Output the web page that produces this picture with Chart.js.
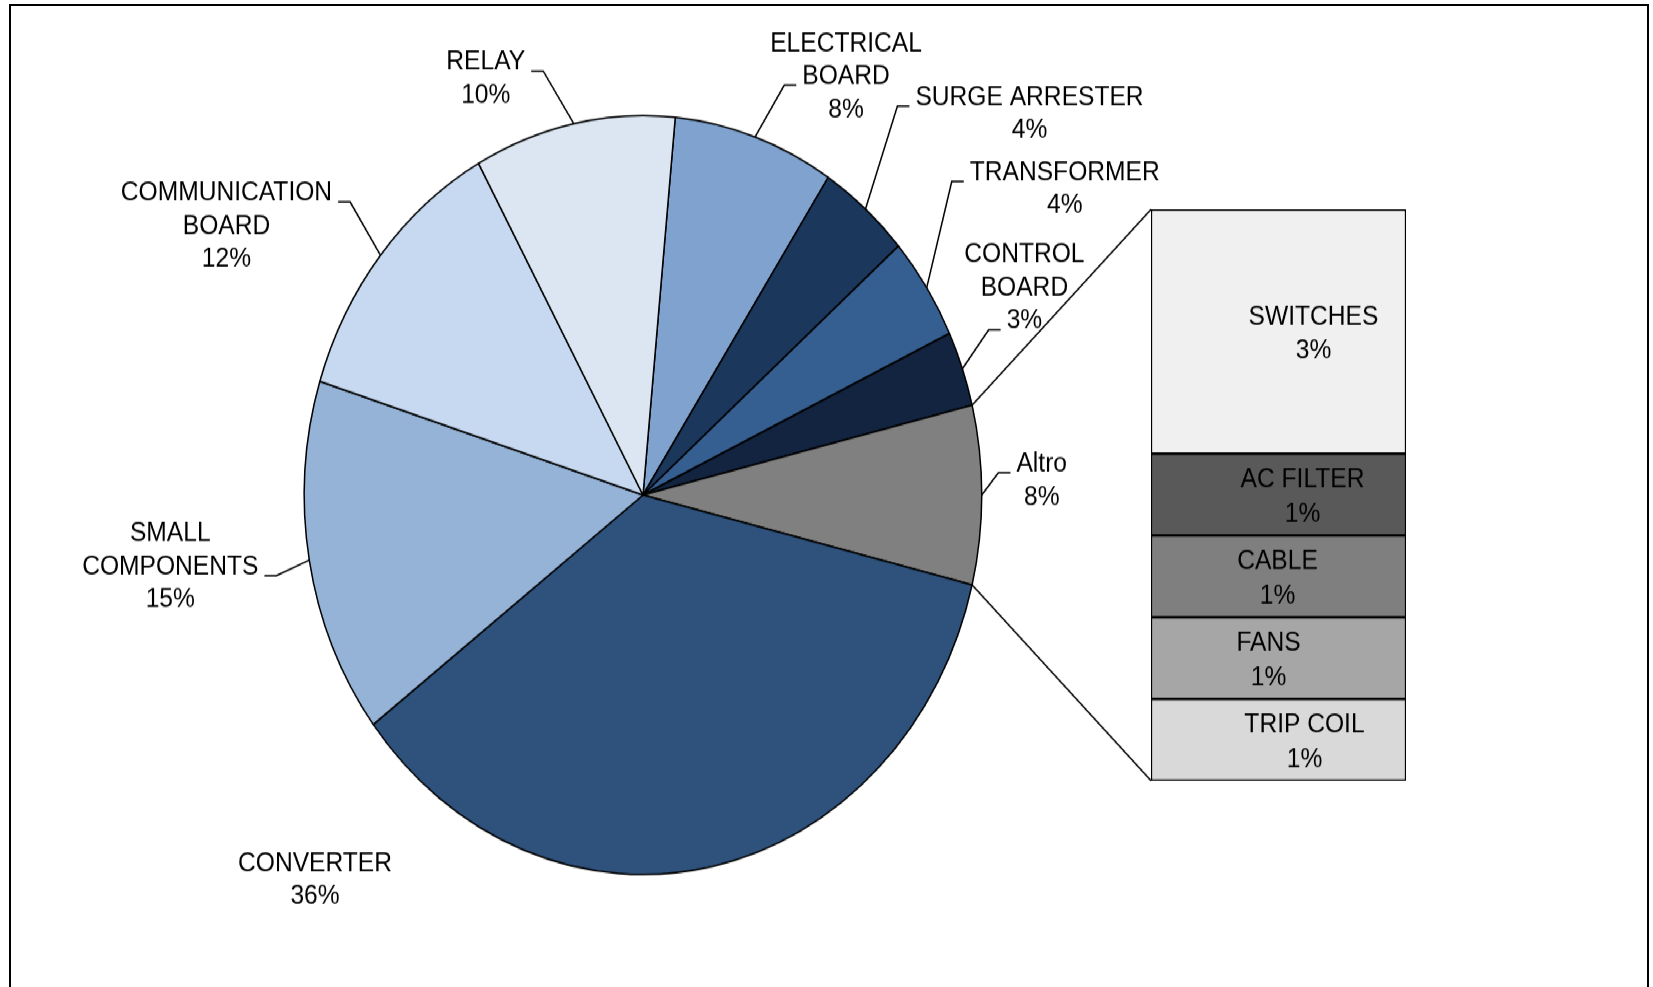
<!DOCTYPE html>
<html>
<head>
<meta charset="utf-8">
<title>Guasti per componente</title>
<script src="https://cdn.jsdelivr.net/npm/chart.js@4.4.1/dist/chart.umd.min.js"></script>
<style>
  html, body { margin: 0; padding: 0; background: #fff; overflow: hidden; }
  #stage { position: absolute; left: 0; top: 0; width: 1653px; height: 881px; transform: scaleY(1.12); transform-origin: 0 0; }
  #pieBox { position: absolute; left: 0; top: 0; width: 1653px; height: 881px; }
  #barBox { position: absolute; left: 1141px; top: 177px; width: 276px; height: 530px; }
  #frame { position: absolute; left: 9px; top: 4px; width: 1640px; height: 1100px; border: 2px solid #000; box-sizing: border-box; pointer-events: none; }
</style>
</head>
<body>
<div id="stage">
  <div id="pieBox"><canvas id="pieChart"></canvas></div>
  <div id="barBox"><canvas id="barChart"></canvas></div>
</div>
<div id="frame"></div>
<script>
(function () {
  'use strict';

  // pie slices, clockwise from the top; 'Altro' is the sum of the bar items
  var pieCategories = [['ELECTRICAL', 'BOARD'], ['SURGE ARRESTER'], ['TRANSFORMER'], ['CONTROL', 'BOARD'],
    ['Altro'], ['CONVERTER'], ['SMALL', 'COMPONENTS'], ['COMMUNICATION', 'BOARD'], ['RELAY']];
  var pieValues = [7.7, 4.4, 4.4, 3.2, null, 35.9, 15.2, 12.1, 9.6];
  var OTHER = 4;

  // bar of pie, top to bottom
  var barCategories = ['SWITCHES', 'AC FILTER', 'CABLE', 'FANS', 'TRIP COIL'];
  var barValues = [3.26, 1.09, 1.09, 1.09, 1.09];

  var pieColors = ['#7FA2CE', '#1B375C', '#365F91', '#12243F', '#808080', '#2F527C', '#95B3D7', '#C6D9F0', '#DCE6F2'];
  var barColors = ['#F0F0F0', '#595959', '#7F7F7F', '#A6A6A6', '#D9D9D9'];

  // label placement relative to the slice edge, and which line the leader points at
  var labelOffset = [[91, -56], [164, -87], [138, -90], [62, -74], [60, -15], [-397, 10], [-139, 4], [-154, -28], [-88, -42]];
  var leaderSpec = [[1, -1], [0, -1], [0, -1], [2, -1], [0, -1], null, [1, 1], [0, 1], [0, 1]];
  var barLabelShift = [35, 24, -1, -10, 26];

  var FONT = '24.6px "Liberation Sans", Arial, sans-serif';
  var CAP = 17.6;
  var LINE = 29.5;
  var BAR_LINE = 30.5;

  function sum(a) { return a.reduce(function (s, v) { return s + v; }, 0); }

  var barTotal = sum(barValues);
  pieValues[OTHER] = barTotal;
  var total = sum(pieValues);
  var before = sum(pieValues.slice(0, OTHER)) + pieValues[OTHER] / 2;
  var rotation = 90 - before / total * 360;

  function pct(v) { return Math.round(v / total * 100) + '%'; }

  function drawBlock(ctx, lines, cx, cy, step) {
    lines.forEach(function (t, k) {
      var mid = cy + (k - (lines.length - 1) / 2) * step;
      ctx.fillText(t, cx, mid + CAP / 2);
    });
  }

  // stacked bar: first dataset sits at the bottom
  var order = barCategories.map(function (c, i) { return i; }).reverse();
  var barBox = document.getElementById('barBox');

  var barChart = new Chart(document.getElementById('barChart'), {
    type: 'bar',
    data: {
      labels: [''],
      datasets: order.map(function (i) {
        return {
          label: barCategories[i],
          data: [barValues[i]],
          backgroundColor: barColors[i],
          borderColor: '#000',
          borderWidth: 1.5,
          borderSkipped: false,
          barPercentage: 1,
          categoryPercentage: 1
        };
      })
    },
    options: {
      responsive: true,
      maintainAspectRatio: false,
      animation: false,
      events: [],
      layout: { padding: { left: 10, right: 11, top: 10, bottom: 10 } },
      plugins: { legend: { display: false }, tooltip: { enabled: false } },
      scales: {
        x: { display: false, stacked: true },
        y: { display: false, stacked: true, min: 0, max: barTotal }
      }
    },
    plugins: [{
      id: 'barLabels',
      afterDatasetsDraw: function (chart) {
        var ctx = chart.ctx;
        ctx.save();
        ctx.font = FONT;
        ctx.fillStyle = '#000';
        ctx.textAlign = 'center';
        chart.data.datasets.forEach(function (ds, d) {
          var i = order[d];
          var el = chart.getDatasetMeta(d).data[0];
          drawBlock(ctx, [barCategories[i], pct(barValues[i])], el.x + barLabelShift[i], (el.y + el.base) / 2, BAR_LINE);
        });
        ctx.restore();
      }
    }]
  });

  new Chart(document.getElementById('pieChart'), {
    type: 'pie',
    data: {
      labels: pieCategories,
      datasets: [{
        data: pieValues,
        backgroundColor: pieColors,
        borderColor: '#000',
        borderWidth: 1.5
      }]
    },
    options: {
      responsive: true,
      maintainAspectRatio: false,
      animation: false,
      events: [],
      rotation: rotation,
      layout: { padding: { left: 303.5, right: 670.5, top: 102.5, bottom: 99.5 } },
      plugins: { legend: { display: false }, tooltip: { enabled: false } }
    },
    plugins: [{
      id: 'pieLabels',
      afterDraw: function (chart) {
        var ctx = chart.ctx;
        var arcs = chart.getDatasetMeta(0).data;
        ctx.save();
        ctx.font = FONT;
        ctx.fillStyle = '#000';
        ctx.strokeStyle = '#000';
        ctx.lineWidth = 1.5;
        ctx.textAlign = 'center';

        arcs.forEach(function (arc, i) {
          var mid = (arc.startAngle + arc.endAngle) / 2;
          var ex = arc.x + arc.outerRadius * Math.cos(mid);
          var ey = arc.y + arc.outerRadius * Math.sin(mid);
          var lines = pieCategories[i].concat([pct(pieValues[i])]);
          var cx = ex + labelOffset[i][0];
          var cy = ey + labelOffset[i][1];
          drawBlock(ctx, lines, cx, cy, LINE);

          var spec = leaderSpec[i];
          if (spec) {
            var k = spec[0], dir = spec[1];
            var w = ctx.measureText(lines[k]).width;
            var ly = cy + (k - (lines.length - 1) / 2) * LINE + CAP / 2 + 1;
            var endX = cx + dir * (w / 2 + 6);
            ctx.beginPath();
            ctx.moveTo(ex, ey);
            ctx.lineTo(endX + dir * 12, ly);
            ctx.lineTo(endX, ly);
            ctx.stroke();
          }
        });

        // connectors from the 'Altro' slice to the bar
        var other = arcs[OTHER];
        var top = barChart.getDatasetMeta(order.length - 1).data[0];
        var bottom = barChart.getDatasetMeta(0).data[0];
        var bx = barBox.offsetLeft + top.x - top.width / 2;
        var by0 = barBox.offsetTop + top.y;
        var by1 = barBox.offsetTop + bottom.base;
        ctx.beginPath();
        ctx.moveTo(other.x + other.outerRadius * Math.cos(other.startAngle), other.y + other.outerRadius * Math.sin(other.startAngle));
        ctx.lineTo(bx, by0);
        ctx.moveTo(other.x + other.outerRadius * Math.cos(other.endAngle), other.y + other.outerRadius * Math.sin(other.endAngle));
        ctx.lineTo(bx, by1);
        ctx.stroke();
        ctx.restore();
      }
    }]
  });
})();
</script>
</body>
</html>
